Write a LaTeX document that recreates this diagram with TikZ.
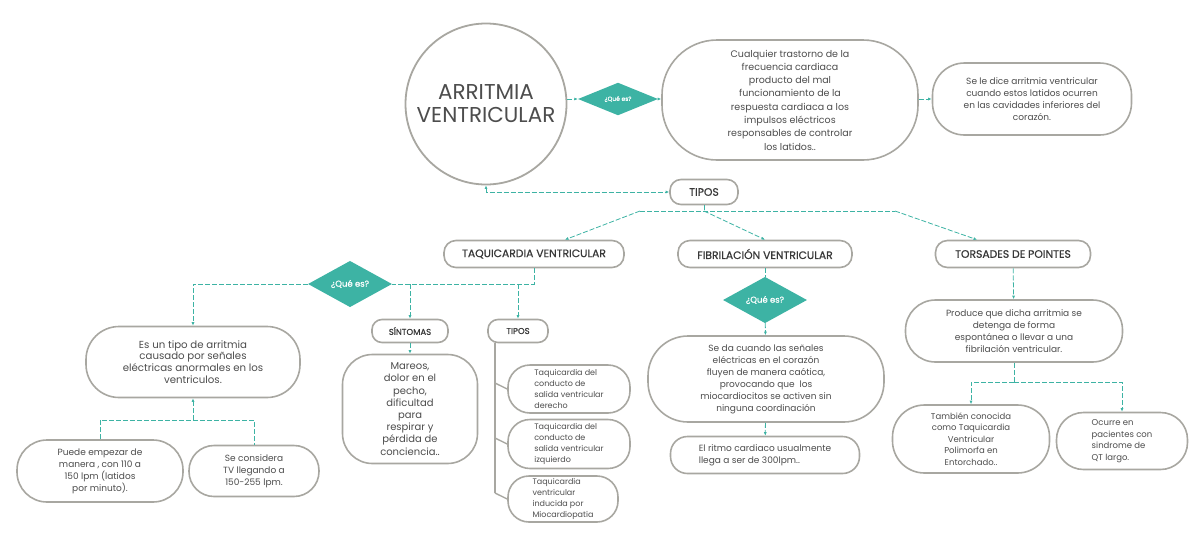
\documentclass[tikz,border=0pt]{standalone}
\usepackage{fontspec}
\setmainfont{Poppins}
\newfontfamily\headfont{Poppins}[FakeBold=0.6]
\usetikzlibrary{arrows.meta,shapes.geometric,positioning}
\definecolor{tealq}{HTML}{3DB3A4}
\definecolor{rimgray}{HTML}{A8A7A1}
\definecolor{inkgray}{HTML}{4D4D4D}

\begin{document}
\begin{tikzpicture}[x=1pt,y=-1pt,
	main node/.style={draw=rimgray,line width=1.6pt,fill=white,text=inkgray,align=center,inner sep=1pt,rectangle},
	head node/.style={main node,font=\headfont\fontsize{10.8}{12}\selectfont,text=black!78},
	ask node/.style={diamond,fill=tealq,text=white,inner sep=0pt,font=\headfont\fontsize{8.5}{9}\selectfont},
	link/.style={draw=tealq,line width=0.8pt,dash pattern=on 5pt off 2pt,-{Latex[length=3.5pt,width=3pt]}},
	plain link/.style={link,-},
	tree/.style={draw=rimgray,line width=1.4pt},
	fa/.style={font=\fontsize{9.5}{13.3}\selectfont},
	fb/.style={font=\fontsize{9}{12}\selectfont},
	fc/.style={font=\fontsize{8.5}{11.5}\selectfont},
	fd/.style={font=\fontsize{8}{10.7}\selectfont}]

	\useasboundingbox (0,0) rectangle (1204,539);

	\node[main node,circle,minimum size=161pt,line width=1.8pt,font=\fontsize{21.5}{23}\selectfont] (av) at (486,104) {ARRITMIA\\VENTRICULAR};
	\node[ask node,minimum width=80pt,minimum height=28pt,font=\headfont\fontsize{6}{7}\selectfont] (q1) at (618,99) {¿Qué es?};
	\node[main node,fa,minimum width=256pt,minimum height=120pt,rounded corners=55pt] (def) at (790,100)
		{Cualquier trastorno de la\\frecuencia cardiaca\\producto del mal\\funcionamiento de la\\respuesta cardiaca a los\\impulsos eléctricos\\responsables de controlar\\los latidos..};
	\node[main node,fb,minimum width=199pt,minimum height=72pt,rounded corners=32pt] (side) at (1032,99)
		{Se le dice arritmia ventricular\\cuando estos latidos ocurren\\en las cavidades inferiores del\\corazón.};

	\node[head node,minimum width=68pt,minimum height=25pt,rounded corners=11pt] (tipos) at (704,192) {TIPOS};
	\node[head node,minimum width=180pt,minimum height=27pt,rounded corners=12pt] (taq) at (534,254) {TAQUICARDIA VENTRICULAR};
	\node[head node,minimum width=174pt,minimum height=27pt,rounded corners=12pt] (fib) at (765,254) {FIBRILACIÓN VENTRICULAR};
	\node[head node,minimum width=155pt,minimum height=27pt,rounded corners=12pt] (tor) at (1013,254) {TORSADES DE POINTES};

	\node[ask node,minimum width=84pt,minimum height=32pt] (q2) at (350,284) {¿Qué es?};
	\node[main node,font=\fontsize{10.2}{11.7}\selectfont,minimum width=214pt,minimum height=71pt,rounded corners=33pt] (esun) at (193,362)
		{Es un tipo de arritmia\\causado por señales\\eléctricas anormales en los\\ventriculos.};
	\node[main node,fb,minimum width=166pt,minimum height=62pt,rounded corners=30pt] (puede) at (100,471)
		{Puede empezar de\\manera , con 110 a\\150 lpm (latidos\\por minuto).};
	\node[main node,fb,minimum width=130pt,minimum height=51pt,rounded corners=25pt] (tv) at (254,471)
		{Se considera\\TV llegando a\\150-255 lpm.};
	\node[head node,font=\headfont\fontsize{8.5}{9}\selectfont,minimum width=76pt,minimum height=23pt,rounded corners=10pt] (sint) at (410,331) {SÍNTOMAS};
	\node[main node,font=\fontsize{10}{12.2}\selectfont,minimum width=135pt,minimum height=109pt,rounded corners=30pt] (mareos) at (410,409)
		{Mareos,\\dolor en el\\pecho,\\dificultad\\para\\respirar y\\pérdida de\\conciencia..};
	\node[head node,font=\headfont\fontsize{8.5}{9}\selectfont,minimum width=60pt,minimum height=23pt,rounded corners=10pt] (tip2) at (518,331) {TIPOS};
	\node[main node,fd,align=left,minimum width=122pt,minimum height=48pt,rounded corners=22pt] (t1) at (569,389)
		{Taquicardia del\\conducto de\\salida ventricular\\derecho};
	\node[main node,fd,align=left,minimum width=122pt,minimum height=49pt,rounded corners=22pt] (t2) at (569,444)
		{Taquicardia del\\conducto de\\salida ventricular\\izquierdo};
	\node[main node,fd,align=left,minimum width=110pt,minimum height=46pt,rounded corners=21pt] (t3) at (563,499)
		{Taquicardia\\ventricular\\inducida por\\Miocardiopatia};

	\node[ask node,minimum width=84pt,minimum height=30pt] (q3) at (765,300) {¿Qué es?};
	\node[main node,fb,minimum width=236pt,minimum height=86pt,rounded corners=40pt] (seda) at (766,379)
		{Se da cuando las señales\\eléctricas en el corazón\\fluyen de manera caótica,\\provocando que\ \ los\\miocardiocitos se activen sin\\ninguna coordinación};
	\node[main node,fb,align=left,minimum width=189pt,minimum height=37pt,rounded corners=17pt] (ritmo) at (765,455)
		{El ritmo cardiaco usualmente\\llega a ser de 300lpm..};

	\node[main node,fb,minimum width=217pt,minimum height=62pt,rounded corners=30pt] (prod) at (1014,331)
		{Produce que dicha arritmia se\\detenga de forma\\espontánea o llevar a una\\fibrilación ventricular.};
	\node[main node,fc,minimum width=157pt,minimum height=68pt,rounded corners=32pt] (tamb) at (971,439)
		{También conocida\\como Taquicardia\\Ventricular\\Polimorfa en\\Entorchado..};
	\node[main node,fc,align=left,minimum width=131pt,minimum height=57pt,rounded corners=27pt] (ocurre) at (1122,441)
		{Ocurre en\\pacientes con\\sindrome de\\QT largo.};

	\draw[link] (q1.west -| av.east) -- (q1.west);
	\draw[link] (q1.east) -- (q1.east -| def.west);
	\draw[link] (def.east |- side.west) -- (side.west);
	\draw[link,{Latex[length=3.5pt,width=3pt]}-{Latex[length=3.5pt,width=3pt]}] (av.south) |- (tipos.west);

	\coordinate (fan) at (704,211);
	\coordinate (fanL) at (640,211);
	\coordinate (fanR) at (895,211);
	\draw[plain link] (tipos.south) -- (fan);
	\draw[plain link] (fanL) -- (fanR);
	\draw[link] (fanL) -- ([xshift=31pt]taq.north);
	\draw[link] (fan) -- (fib.north);
	\draw[link] (fanR) -- ([xshift=-36pt]tor.north);

	\draw[plain link] (taq.south) |- (q2.east);
	\draw[link] (sint.north |- q2.east) -- (sint.north);
	\draw[link] (tip2.north |- q2.east) -- (tip2.north);
	\draw[link] (q2.west) -| (esun.north);
	\coordinate (tv join) at (193,420);
	\draw[plain link] (puede.north) |- (tv join) -| (tv.north);
	\draw[link] (tv join) -- (esun.south);
	\draw[link] (sint) -- (mareos);

	\coordinate (stem) at ([xshift=-23pt]tip2.south);
	\draw[tree] (stem) -- ([yshift=6pt]stem |- t3.west);
	\foreach \leaf in {t1,t2,t3}
		\draw[tree] ([yshift=6pt]stem |- \leaf.west) -- (\leaf.west);

	\draw[plain link] (fib) -- (q3);
	\draw[link] (q3) -- (seda);
	\draw[link] (seda) -- (ritmo);

	\draw[link] (tor) -- (prod);
	\coordinate (tor join) at (1014,382);
	\draw[plain link] (prod.south) -- (tor join);
	\draw[link] (tor join) -| (tamb.north);
	\draw[link] (tor join) -| (ocurre.north);

\end{tikzpicture}
\end{document}
